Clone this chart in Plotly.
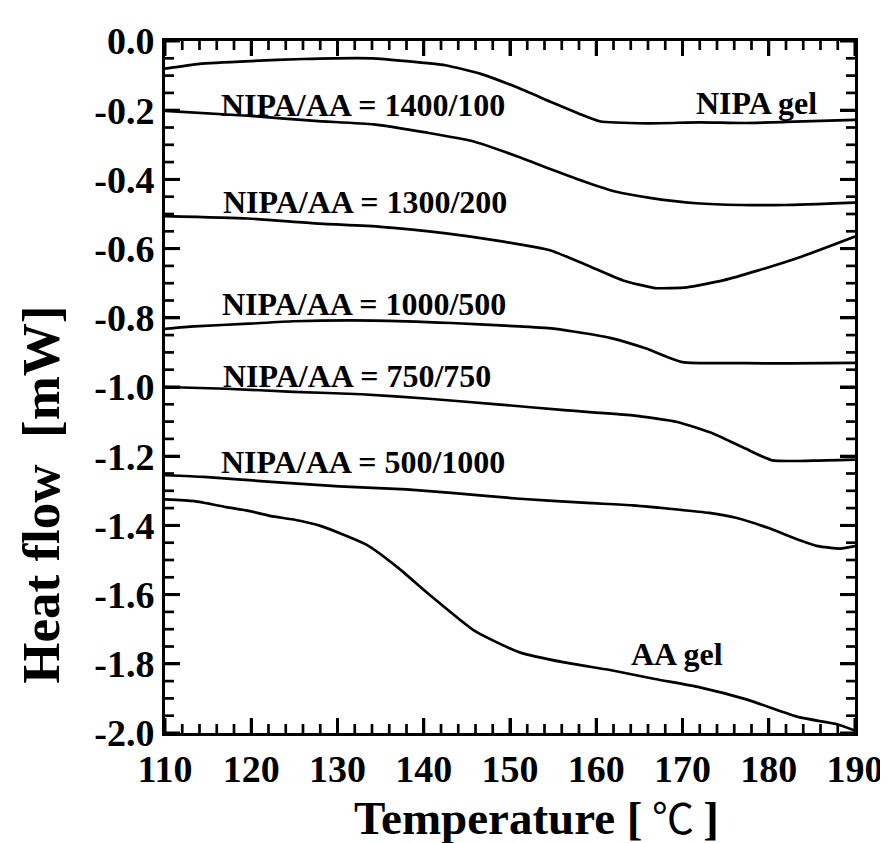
import plotly.graph_objects as go

# ---- data ----
nipa_gel_T = [110, 114, 120, 126, 134, 138, 142.5, 146.6, 150.8, 154.9, 158, 160.4, 166, 172, 177, 182, 190]
nipa_gel_Q = [-0.08, -0.066, -0.058, -0.052, -0.05, -0.058, -0.07, -0.095, -0.134, -0.178, -0.21, -0.232, -0.238, -0.235, -0.237, -0.234, -0.228]

r1400_T = [110, 119.6, 127.4, 134.2, 140.4, 145.6, 150.8, 154.9, 158.6, 162.2, 166.4, 171.6, 176.8, 181.9, 190]
r1400_Q = [-0.202, -0.216, -0.231, -0.241, -0.265, -0.289, -0.333, -0.372, -0.406, -0.435, -0.454, -0.469, -0.474, -0.474, -0.467]

r1300_T = [110, 119.6, 127.4, 135, 142.6, 148.5, 154.8, 159, 163.1, 166.8, 170.5, 174.7, 178.8, 183.6, 190]
r1300_Q = [-0.506, -0.513, -0.527, -0.537, -0.556, -0.577, -0.606, -0.649, -0.692, -0.714, -0.712, -0.692, -0.663, -0.625, -0.565]

r1000_T = [110, 113.4, 119.7, 124.9, 134.3, 143.2, 151.1, 155.3, 161.6, 165.8, 170, 177.3, 182.5, 190]
r1000_Q = [-0.832, -0.825, -0.817, -0.81, -0.808, -0.815, -0.825, -0.832, -0.858, -0.889, -0.928, -0.931, -0.932, -0.93]

r750_T = [110, 117.1, 124.9, 132.8, 140.6, 148.5, 156.3, 164.2, 169.4, 173.6, 177.3, 180.4, 185.1, 190]
r750_Q = [-1.0, -1.005, -1.014, -1.021, -1.034, -1.05, -1.067, -1.082, -1.101, -1.135, -1.178, -1.212, -1.213, -1.21]

r500_T = [110, 114.5, 122.3, 130.2, 138, 143.2, 151.1, 158.9, 164.2, 169.4, 173.1, 176.2, 179.9, 183.6, 185.7, 188.3, 190]
r500_Q = [-1.255, -1.26, -1.274, -1.287, -1.296, -1.306, -1.323, -1.335, -1.342, -1.354, -1.364, -1.378, -1.407, -1.443, -1.46, -1.467, -1.46]

aa_gel_T = [110, 113.4, 117.1, 119.7, 122.3, 124.9, 128.1, 133.3, 137, 140.6, 145.9, 151.1, 156.3, 161.6, 166.8, 172, 177.3, 183.6, 187.8, 190]
aa_gel_Q = [-1.325, -1.33, -1.347, -1.358, -1.373, -1.383, -1.402, -1.455, -1.522, -1.599, -1.705, -1.767, -1.796, -1.818, -1.844, -1.868, -1.902, -1.955, -1.974, -1.993]

series = [
    (nipa_gel_T, nipa_gel_Q),
    (r1400_T, r1400_Q),
    (r1300_T, r1300_Q),
    (r1000_T, r1000_Q),
    (r750_T, r750_Q),
    (r500_T, r500_Q),
    (aa_gel_T, aa_gel_Q),
]

labels = ["NIPA/AA = 1400/100", "NIPA gel", "NIPA/AA = 1300/200", "NIPA/AA = 1000/500",
          "NIPA/AA = 750/750", "NIPA/AA = 500/1000", "AA gel"]
label_x = [133.0, 178.6, 133.2, 133.1, 132.3, 132.9, 169.4]
label_y = [-0.185, -0.178, -0.465, -0.76, -0.967, -1.217, -1.772]

x_tickvals = [110, 120, 130, 140, 150, 160, 170, 180, 190]
x_ticktext = ["110", "120", "130", "140", "150", "160", "170", "180", "190"]
x_minorvals = [112, 114, 116, 118, 122, 124, 126, 128, 132, 134, 136, 138, 142, 144, 146, 148,
               152, 154, 156, 158, 162, 164, 166, 168, 172, 174, 176, 178, 182, 184, 186, 188]
y_tickvals = [0.0, -0.2, -0.4, -0.6, -0.8, -1.0, -1.2, -1.4, -1.6, -1.8, -2.0]
y_ticktext = ["0.0", "-0.2", "-0.4", "-0.6", "-0.8", "-1.0", "-1.2", "-1.4", "-1.6", "-1.8", "-2.0"]
y_minorvals = [-0.05, -0.1, -0.15, -0.25, -0.3, -0.35, -0.45, -0.5, -0.55, -0.65, -0.7, -0.75,
               -0.85, -0.9, -0.95, -1.05, -1.1, -1.15, -1.25, -1.3, -1.35, -1.45, -1.5, -1.55,
               -1.65, -1.7, -1.75, -1.85, -1.9, -1.95]

x_title = ("Temperature [\u2009<span style=\"font-family:'Noto Sans CJK JP';font-weight:normal;"
           "font-size:42px\">℃</span>\u2009]")
y_title = "Heat flow\u00a0\u00a0[mW]"

FONT = "Liberation Serif"
MAJOR_LEN, MINOR_LEN = 15, 9

fig = go.Figure()
for T, Q in series:
    fig.add_trace(go.Scatter(x=T, y=Q, mode="lines",
                             line=dict(color="black", width=2.7, shape="spline", smoothing=0.5),
                             showlegend=False, hoverinfo="skip"))

for txt, lx, ly in zip(labels, label_x, label_y):
    fig.add_annotation(x=lx, y=ly, text="<b>" + txt + "</b>", showarrow=False,
                       font=dict(family=FONT, size=32, color="black"))

fig.add_annotation(xref="paper", yref="paper", x=0.538, y=-(843 - 725 - 2) / 696,
                   text="<b>" + x_title + "</b>",
                   showarrow=False, xanchor="center", yanchor="bottom",
                   font=dict(family=FONT, size=47, color="black"))
fig.add_annotation(xref="paper", yref="paper", x=-0.179, y=0.345, text="<b>" + y_title + "</b>",
                   showarrow=False, textangle=-90, xanchor="center", yanchor="middle",
                   font=dict(family=FONT, size=53, color="black"))

# inward tick marks on all four sides, placed through the axes' own scales
def xtick(v, length, width, side):
    anchor = 0 if side == "bottom" else 1
    sgn = 1 if side == "bottom" else -1
    return dict(type="line", xref="x", x0=v, x1=v, yref="paper", ysizemode="pixel",
                yanchor=anchor, y0=0, y1=sgn * length, line=dict(color="black", width=width),
                layer="above")

def ytick(v, length, width, side):
    anchor = 0 if side == "left" else 1
    sgn = 1 if side == "left" else -1
    return dict(type="line", yref="y", y0=v, y1=v, xref="paper", xsizemode="pixel",
                xanchor=anchor, x0=0, x1=sgn * length, line=dict(color="black", width=width),
                layer="above")

shapes = []
for side in ("bottom", "top"):
    shapes += [xtick(v, MAJOR_LEN, 3, side) for v in x_tickvals]
    shapes += [xtick(v, MINOR_LEN, 2.7, side) for v in x_minorvals]
for side in ("left", "right"):
    shapes += [ytick(v, MAJOR_LEN, 3, side) for v in y_tickvals]
    shapes += [ytick(v, MINOR_LEN, 2.7, side) for v in y_minorvals]

tickfont = dict(family=FONT, size=38, color="black")

fig.update_layout(
    width=888, height=843, margin=dict(l=157, r=34, t=29, b=118),
    paper_bgcolor="white", plot_bgcolor="white",
    shapes=shapes,
    xaxis=dict(range=[110, 190], tickmode="array", tickvals=x_tickvals,
               ticktext=["<b>%s</b>" % t for t in x_ticktext],
               ticks="inside", ticklen=MAJOR_LEN, tickwidth=3, tickcolor="black",
               showline=True, linewidth=3, linecolor="black", mirror="ticks",
               showgrid=False, zeroline=False, tickfont=tickfont),
    yaxis=dict(range=[-2.0, 0.0], tickmode="array", tickvals=y_tickvals,
               ticktext=["<b>%s</b>" % t for t in y_ticktext],
               ticks="inside", ticklen=MAJOR_LEN, tickwidth=3, tickcolor="black",
               showline=True, linewidth=3, linecolor="black", mirror="ticks",
               showgrid=False, zeroline=False, tickfont=tickfont),
)

fig.write_html("out.html")
